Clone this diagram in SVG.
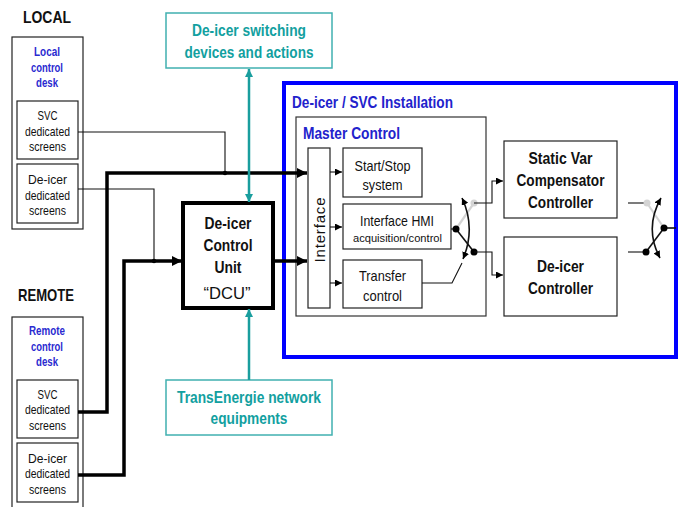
<svg xmlns="http://www.w3.org/2000/svg" width="682" height="507" viewBox="0 0 682 507">
<style>
text{font-family:"Liberation Sans",Arial,sans-serif;fill:#111;}
.hdr{font-size:17px;font-weight:bold;}
.desk{font-size:13px;font-weight:bold;fill:#2a2ad0;text-anchor:middle;}
.scr{font-size:13.5px;text-anchor:middle;}
.teal{font-size:16.5px;font-weight:bold;fill:#12a0a0;text-anchor:middle;}
.big{font-size:17px;font-weight:bold;text-anchor:middle;}
.blue{font-size:17px;font-weight:bold;fill:#2222cc;}
.mid{font-size:15px;text-anchor:middle;}
.box{fill:#fff;stroke:#222;stroke-width:1.2;}
.tbox{fill:#fff;stroke:#40b0b0;stroke-width:1.5;}
.thin{fill:none;stroke:#111;stroke-width:1.1;}
.thick{fill:none;stroke:#000;stroke-width:3.5;}
.tealln{fill:none;stroke:#1a9e9e;stroke-width:2.5;}
.gray{fill:none;stroke:#d4d4d4;stroke-width:2.2;}
.sw{fill:none;stroke:#111;stroke-width:1.6;}
</style>
<defs>
<marker id="aT" markerUnits="userSpaceOnUse" markerWidth="11" markerHeight="11" refX="10" refY="5" orient="auto"><path d="M0,0 L10,5 L0,10 z" fill="#000"/></marker>
<marker id="aS" markerUnits="userSpaceOnUse" markerWidth="8" markerHeight="8" refX="7" refY="3.5" orient="auto"><path d="M0,0 L7,3.5 L0,7 z" fill="#000"/></marker>
<marker id="aC" markerUnits="userSpaceOnUse" markerWidth="9" markerHeight="9" refX="8" refY="4" orient="auto-start-reverse"><path d="M0,0 L8,4 L0,8 z" fill="#1a9e9e"/></marker>
<marker id="aW" markerUnits="userSpaceOnUse" markerWidth="8" markerHeight="8" refX="7" refY="3.5" orient="auto-start-reverse"><path d="M0,0 L7,3.5 L0,7 z" fill="#000"/></marker>
</defs>
<rect width="682" height="507" fill="#fff"/>

<g id="local">
<text class="hdr" x="23" y="23" textLength="48" lengthAdjust="spacingAndGlyphs">LOCAL</text>
<rect class="box" x="12" y="37" width="71" height="192"/>
<text class="desk" x="47" y="55.5" textLength="26" lengthAdjust="spacingAndGlyphs">Local</text>
<text class="desk" x="47" y="71.5" textLength="32" lengthAdjust="spacingAndGlyphs">control</text>
<text class="desk" x="47" y="86.5" textLength="22" lengthAdjust="spacingAndGlyphs">desk</text>
</g>
<g id="local-svc">
<rect class="box" x="17" y="101" width="61" height="58"/>
<text class="scr" x="47.5" y="120" textLength="20" lengthAdjust="spacingAndGlyphs">SVC</text>
<text class="scr" x="47.5" y="136" textLength="45" lengthAdjust="spacingAndGlyphs">dedicated</text>
<text class="scr" x="47.5" y="151" textLength="37" lengthAdjust="spacingAndGlyphs">screens</text>
</g>
<g id="local-deicer">
<rect class="box" x="17" y="164" width="61" height="59"/>
<text class="scr" x="47.5" y="184" textLength="39" lengthAdjust="spacingAndGlyphs">De-icer</text>
<text class="scr" x="47.5" y="200" textLength="45" lengthAdjust="spacingAndGlyphs">dedicated</text>
<text class="scr" x="47.5" y="215" textLength="37" lengthAdjust="spacingAndGlyphs">screens</text>
</g>

<g id="remote">
<text class="hdr" x="18" y="301" textLength="56" lengthAdjust="spacingAndGlyphs">REMOTE</text>
<rect class="box" x="12" y="317" width="71" height="200"/>
<text class="desk" x="47" y="334.5" textLength="36" lengthAdjust="spacingAndGlyphs">Remote</text>
<text class="desk" x="47" y="350.5" textLength="32" lengthAdjust="spacingAndGlyphs">control</text>
<text class="desk" x="47" y="365.5" textLength="22" lengthAdjust="spacingAndGlyphs">desk</text>
</g>
<g id="remote-svc">
<rect class="box" x="17" y="380" width="61" height="58"/>
<text class="scr" x="47.5" y="399" textLength="20" lengthAdjust="spacingAndGlyphs">SVC</text>
<text class="scr" x="47.5" y="414" textLength="45" lengthAdjust="spacingAndGlyphs">dedicated</text>
<text class="scr" x="47.5" y="430" textLength="37" lengthAdjust="spacingAndGlyphs">screens</text>
</g>
<g id="remote-deicer">
<rect class="box" x="17" y="443" width="61" height="59"/>
<text class="scr" x="47.5" y="463" textLength="39" lengthAdjust="spacingAndGlyphs">De-icer</text>
<text class="scr" x="47.5" y="478" textLength="45" lengthAdjust="spacingAndGlyphs">dedicated</text>
<text class="scr" x="47.5" y="494" textLength="37" lengthAdjust="spacingAndGlyphs">screens</text>
</g>

<g id="switching">
<rect class="tbox" x="166" y="13" width="166" height="55"/>
<text class="teal" x="249" y="36" textLength="114" lengthAdjust="spacingAndGlyphs">De-icer switching</text>
<text class="teal" x="249" y="58" textLength="129" lengthAdjust="spacingAndGlyphs">devices and actions</text>
</g>
<g id="network">
<rect class="tbox" x="166" y="380" width="166" height="55"/>
<text class="teal" x="249" y="403" textLength="144" lengthAdjust="spacingAndGlyphs">TransEnergie network</text>
<text class="teal" x="249" y="424" textLength="77" lengthAdjust="spacingAndGlyphs">equipments</text>
</g>

<g id="dcu">
<rect x="183" y="203" width="90" height="105" fill="#fff" stroke="#000" stroke-width="4"/>
<text class="big" x="228" y="229" textLength="47" lengthAdjust="spacingAndGlyphs">De-icer</text>
<text class="big" x="228" y="251" textLength="49" lengthAdjust="spacingAndGlyphs">Control</text>
<text class="big" x="228" y="273" textLength="27" lengthAdjust="spacingAndGlyphs">Unit</text>
<text x="227" y="299" font-size="17" text-anchor="middle" textLength="47" lengthAdjust="spacingAndGlyphs">“DCU”</text>
</g>

<g id="installation">
<rect x="284" y="83" width="392" height="274" fill="none" stroke="#0000ff" stroke-width="4"/>
<text class="blue" x="292" y="108" textLength="161" lengthAdjust="spacingAndGlyphs">De-icer / SVC Installation</text>
</g>
<g id="master">
<rect x="296" y="117" width="190" height="199" fill="#fff" stroke="#333" stroke-width="1.2"/>
<text class="blue" x="303" y="139" textLength="97" lengthAdjust="spacingAndGlyphs">Master Control</text>
</g>
<g id="interface">
<rect class="box" x="308" y="148" width="22" height="160"/>
<text x="0" y="0" font-size="15" text-anchor="middle" transform="translate(324.5,230) rotate(-90)" textLength="65" lengthAdjust="spacing">Interface</text>
</g>
<g id="startstop">
<rect class="box" x="343" y="148" width="79" height="49"/>
<text class="mid" x="382.5" y="170.5" textLength="56" lengthAdjust="spacingAndGlyphs">Start/Stop</text>
<text class="mid" x="382.5" y="189.5" textLength="40" lengthAdjust="spacingAndGlyphs">system</text>
</g>
<g id="hmi">
<rect class="box" x="343" y="204" width="108" height="45"/>
<text class="mid" x="397" y="225.5" textLength="74" lengthAdjust="spacingAndGlyphs">Interface HMI</text>
<text x="397.5" y="241.5" font-size="11.5" text-anchor="middle" textLength="89" lengthAdjust="spacingAndGlyphs">acquisition/control</text>
</g>
<g id="transfer">
<rect class="box" x="343" y="260" width="79" height="48"/>
<text class="mid" x="382.5" y="280.5" textLength="47" lengthAdjust="spacingAndGlyphs">Transfer</text>
<text class="mid" x="382.5" y="300.5" textLength="39" lengthAdjust="spacingAndGlyphs">control</text>
</g>
<g id="svc-controller">
<rect class="box" x="504" y="141" width="113" height="77"/>
<text class="big" x="560.5" y="164" textLength="64" lengthAdjust="spacingAndGlyphs">Static Var</text>
<text class="big" x="560.5" y="186" textLength="88" lengthAdjust="spacingAndGlyphs">Compensator</text>
<text class="big" x="560.5" y="208" textLength="65" lengthAdjust="spacingAndGlyphs">Controller</text>
</g>
<g id="deicer-controller">
<rect class="box" x="504" y="237" width="113" height="79"/>
<text class="big" x="560.5" y="272" textLength="47" lengthAdjust="spacingAndGlyphs">De-icer</text>
<text class="big" x="560.5" y="294" textLength="65" lengthAdjust="spacingAndGlyphs">Controller</text>
</g>

<g id="connectors">
<polyline class="thin" points="78,132 225,132 225,173"/>
<polyline class="thin" points="78,189 154,189 154,261"/>
<polyline class="thick" points="78,412 107,412 107,173 307,173" marker-end="url(#aT)"/>
<polyline class="thick" points="78,475 124,475 124,261 182,261" marker-end="url(#aT)"/>
<line class="thick" x1="273" y1="261" x2="307" y2="261" marker-end="url(#aT)"/>
<circle cx="225" cy="173" r="2.2" fill="#000"/>
<circle cx="154" cy="261" r="2.2" fill="#000"/>
<line class="tealln" x1="249" y1="69" x2="249" y2="202" marker-start="url(#aC)" marker-end="url(#aC)"/>
<line class="tealln" x1="249" y1="380" x2="249" y2="309" marker-end="url(#aC)"/>
<line class="thin" x1="330" y1="172" x2="342" y2="172" marker-end="url(#aS)"/>
<line class="thin" x1="330" y1="227" x2="342" y2="227" marker-end="url(#aS)"/>
<line class="thin" x1="330" y1="283" x2="342" y2="283" marker-end="url(#aS)"/>
<line class="thin" x1="451" y1="229" x2="456" y2="229"/>
<line class="gray" x1="456" y1="229" x2="474" y2="203"/>
<circle cx="474" cy="203" r="3.5" fill="#d4d4d4"/>
<line class="sw" x1="456" y1="229" x2="474" y2="252"/>
<circle cx="456" cy="229" r="3.5" fill="#000"/>
<circle cx="474" cy="252" r="3.5" fill="#000"/>
<path class="sw" d="M462,198 Q476,228 463,259" marker-start="url(#aW)" marker-end="url(#aW)"/>
<polyline class="thin" points="422,283 452,283 462,263"/>
<polyline class="thin" points="474,203 492,203 492,181 503,181" marker-end="url(#aS)"/>
<polyline class="thin" points="474,252 492,252 492,275 503,275" marker-end="url(#aS)"/>
<line class="thin" x1="628" y1="203" x2="647" y2="203"/>
<line class="thin" x1="628" y1="252" x2="646" y2="252"/>
<line class="gray" x1="647" y1="203" x2="664" y2="228"/>
<circle cx="647" cy="203" r="3.5" fill="#d4d4d4"/>
<line class="sw" x1="664" y1="228" x2="646" y2="252"/>
<line class="sw" x1="664" y1="228" x2="676" y2="228"/>
<circle cx="664" cy="228" r="3.5" fill="#000"/>
<circle cx="646" cy="252" r="3.5" fill="#000"/>
<path class="sw" d="M661,198 Q644,228 660,258" marker-start="url(#aW)" marker-end="url(#aW)"/>
</g>
</svg>
